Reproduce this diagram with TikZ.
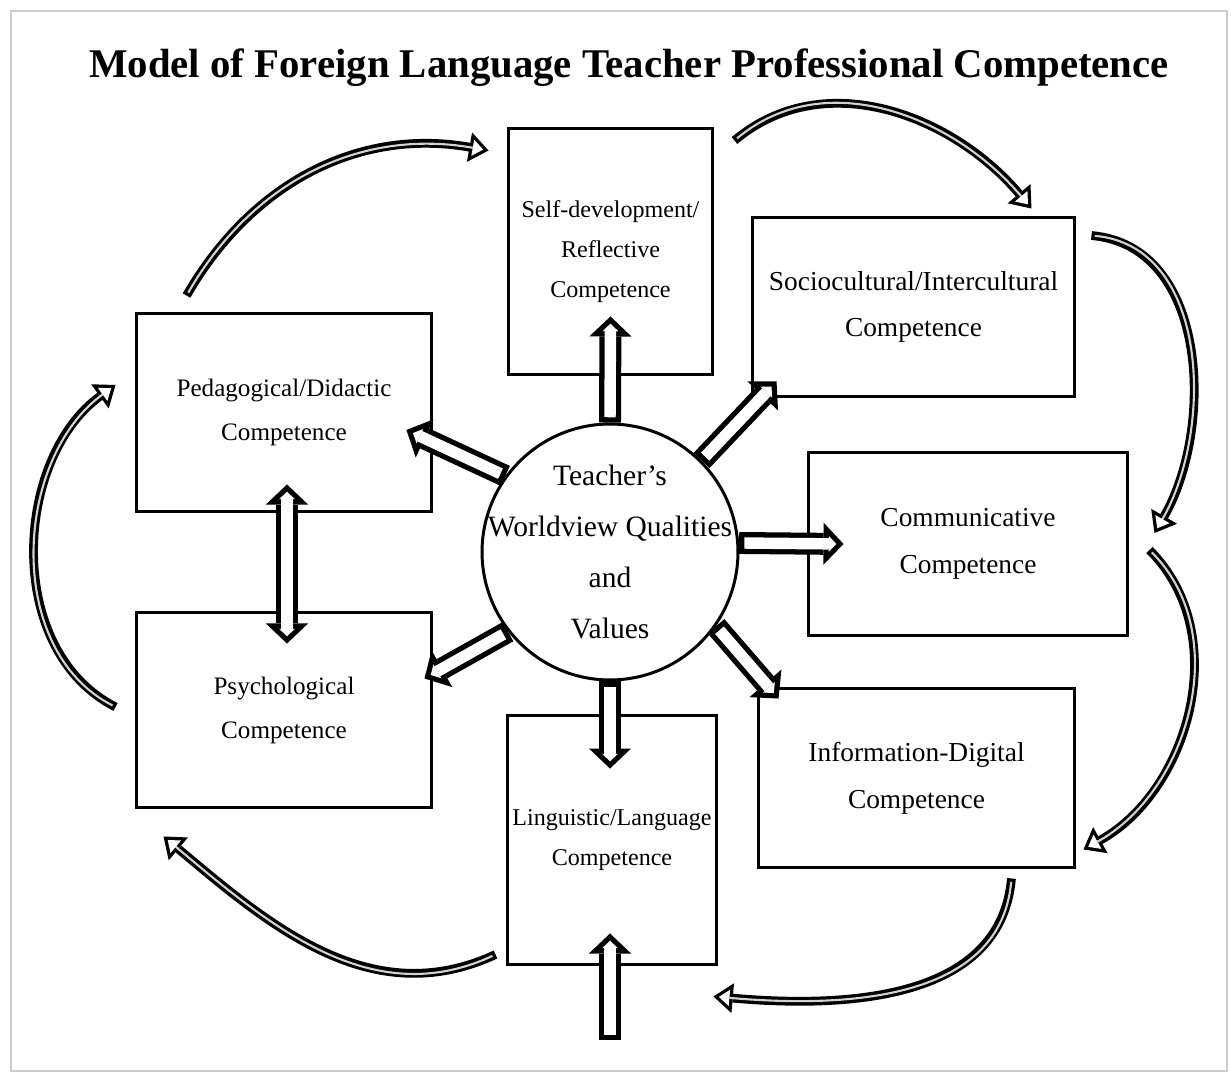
\documentclass[tikz,border=0pt]{standalone}
\usepackage{fontspec}
\setmainfont{Liberation Serif}
\usetikzlibrary{arrows.meta}

\begin{document}
\begin{tikzpicture}[x=0.02cm, y=-0.02cm,
  box/.style={draw, line width=1.7pt, fill=white, align=center, inner sep=2pt, font=\fontsize{15.6}{26.5}\selectfont},
  boxsm/.style={box, font=\fontsize{13.7}{22.8}\selectfont},
  boxmd/.style={box, font=\fontsize{14.3}{25}\selectfont},
  hub/.style={circle, draw, line width=1.7pt, fill=white, minimum size=5.12cm, inner sep=0pt},
  hubtxt/.style={align=center, font=\fontsize{16.8}{28.9}\selectfont},
  blk/.style={line width=12.5pt, -{Triangle[length=11.4pt, width=24pt, line width=0pt]},
    postaction={draw=white, line width=6.5pt, shorten <=3pt, shorten >=4.1pt, -{Triangle[length=4.3pt, width=9pt, line width=0pt]}}},
  blkd/.style={line width=12.5pt, {Triangle[length=11.4pt, width=24pt, line width=0pt]}-{Triangle[length=11.4pt, width=24pt, line width=0pt]},
    postaction={draw=white, line width=6.5pt, shorten <=4.1pt, shorten >=4.1pt, {Triangle[length=4.3pt, width=9pt, line width=0pt]}-{Triangle[length=4.3pt, width=9pt, line width=0pt]}}},
  crv/.style={line width=5pt, -{Triangle[length=11pt, width=17pt, line width=0pt]},
    postaction={draw=gray!35, line width=1.2pt, shorten <=1.9pt, shorten >=3.1pt, -{Triangle[length=6pt, width=9.3pt, line width=0pt, fill=white]}}}
]
  \useasboundingbox (0,0) rectangle (1231,1074);
  \draw[gray!40, line width=1.2pt] (11,11) rectangle (1227,1071);

  \node[font=\fontsize{23.2}{28}\selectfont\bfseries, anchor=base] (ttl) at (629,78)
    {Model of Foreign Language Teacher Professional Competence};

  % competence boxes
  \node[boxsm, minimum width=4.1cm, minimum height=4.94cm] (self) at (610.5,251.5) {Self-development/\\Reflective\\Competence};
  \node[box, minimum width=6.46cm, minimum height=3.6cm] (socio) at (913.5,307) {Sociocultural/Intercultural\\Competence};
  \node[box, minimum width=6.4cm, minimum height=3.68cm] (comm) at (968,544) {Communicative\\Competence};
  \node[box, minimum width=6.34cm, minimum height=3.6cm] (info) at (916.5,778) {Information-Digital\\Competence};
  \node[boxsm, minimum width=4.2cm, minimum height=5cm] (ling) at (612,840) {Linguistic/Language\\Competence};
  \node[boxmd, minimum width=5.92cm, minimum height=3.92cm] (psych) at (284,710) {Psychological\\Competence};
  \node[boxmd, minimum width=5.92cm, minimum height=3.98cm] (ped) at (284,412.5) {Pedagogical/Didactic\\Competence};

  \node[hub, label={[hubtxt]center:Teacher’s\\Worldview Qualities\\and\\Values}] (ctr) at (610,552) {};

  % block arrows
  \draw[blk] (ctr.north) -- ([shift={(0,-60)}]self.south);
  \draw[blk] (ctr.45) -- ([shift={(26,-17)}]socio.south west);
  \draw[blk] (ctr.4) -- ([shift={(37,0)}]comm.west);
  \draw[blk] (ctr.-35) -- ([shift={(22,12)}]info.north west);
  \draw[blk] (ctr.south) -- ([shift={(-2,55)}]ling.north);
  \draw[blk] (ctr.218) -- ([shift={(-9,68)}]psych.north east);
  \draw[blk] (ctr.144) -- ([shift={(-27,17.5)}]ped.east);
  \draw[blkd] ([shift={(3,-29)}]ped.south) -- ([shift={(3,33)}]psych.north);
  \coordinate (src) at (610,1040);
  \draw[blk] (src) -- ([shift={(-2,-33)}]ling.south);

  % curved arrows round the model
  \draw[crv] ([shift={(52,-16)}]ped.north west) to[out=60, in=170] ([shift={(-18,24)}]self.north west);
  \draw[crv] ([shift={(20,14)}]self.north east) to[out=40, in=130] ([shift={(-45,-7)}]socio.north east);
  \draw[crv] ([shift={(15,20)}]socio.north east) to[out=-5, in=60] ([shift={(25,-11)}]comm.east);
  \draw[crv] ([shift={(20,6)}]comm.east) to[out=-45, in=29] ([shift={(7,-20)}]info.south east);
  \draw[crv] ([shift={(-65,9)}]info.south east) to[out=-95, in=-5] ([shift={(-5,30)}]ling.south east);
  \draw[crv] ([shift={(-10,-12)}]ling.south west) to[out=205, in=-40] ([shift={(29,27)}]psych.south west);
  \draw[crv] ([shift={(-19,-3)}]psych.west) to[out=153, in=-144] ([shift={(-19,-27.5)}]ped.west);
\end{tikzpicture}
\end{document}
